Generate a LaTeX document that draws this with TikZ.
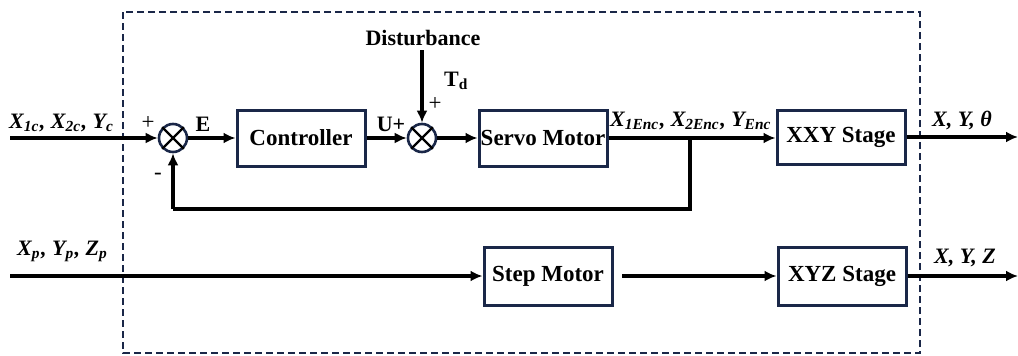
\documentclass[tikz,border=0pt]{standalone}
\usepackage{fontspec}
\setmainfont{Liberation Serif}
\usetikzlibrary{arrows.meta}
\definecolor{navy}{HTML}{1A2748}
\begin{document}
\begin{tikzpicture}[x=1pt,y=-1pt,
  blk/.style={draw=navy, line width=3pt, rectangle, minimum width=128pt, minimum height=56pt, inner sep=0pt, font=\fontsize{23}{26}\selectfont\bfseries},
  sumc/.style={draw=navy, line width=2.6pt, circle, minimum size=28pt, inner sep=0pt},
  conn/.style={line width=3.6pt, -{Latex[length=12pt,width=11pt]}},
  line/.style={line width=3.6pt},
  lbl/.style={font=\fontsize{22}{26}\selectfont\bfseries\itshape, inner sep=0pt},
  sgn/.style={font=\fontsize{23}{26}\selectfont, inner sep=0pt},
  bl/.style={font=\fontsize{22}{26}\selectfont\bfseries, inner sep=0pt}]
\useasboundingbox (0,0) rectangle (1018,356);
% dashed frame
\draw[navy, line width=2.2pt, dash pattern=on 7pt off 4pt] (123,12) rectangle (920,353);
% blocks
\node[blk] (ctrl) at (301,138) {Controller};
\node[blk] (servo) at (543,138) {Servo Motor};
\node[blk, minimum height=54pt] (xxy) at (841,137) {XXY Stage};
\node[blk, minimum height=58pt] (step) at (548,276) {Step Motor};
\node[blk, minimum height=58pt] (xyz) at (842,276) {XYZ Stage};
% summing junctions
\node[sumc] (s1) at (173,138) {};
\draw[line width=2.4pt] (s1.north west) -- (s1.south east) (s1.north east) -- (s1.south west);
\node[sumc] (s2) at (422,138) {};
\draw[line width=2.4pt] (s2.north west) -- (s2.south east) (s2.north east) -- (s2.south west);
% coordinates
\coordinate (in1) at (10,138);
\coordinate (out1) at (1018,137);
\coordinate (br) at (690,138);
\coordinate (fb1) at (690,209);
\coordinate (fb2) at (173,209);
\coordinate (dist) at (422,50);
\coordinate (in2) at (10,276);
\coordinate (sm) at (622,276);
\coordinate (out2) at (1018,276);
% connectors
\draw[conn] (in1) -- (s1.west);
\draw[conn] (s1.east) -- (ctrl.west);
\draw[conn] (ctrl.east) -- (s2.west);
\draw[conn] (s2.east) -- (servo.west);
\draw[conn] (servo.east) -- (servo.east -| xxy.west);
\draw[line] (br) -- (fb1) -- (fb2);
\draw[conn] (fb2) -- (s1.south);
\draw[conn] (dist) -- (s2.north);
\draw[conn] (xxy.east) -- (out1);
\draw[conn] (in2) -- (step.west);
\draw[conn] (sm) -- (xyz.west);
\draw[conn] (xyz.east) -- (out2);
% labels
\node[lbl, anchor=base west] (lin1) at (9,128) {X\textsubscript{1c}\kern1pt, X\textsubscript{2c}\kern1pt, Y\textsubscript{c}};
\node[sgn, anchor=center] (p1) at (148,123) {+};
\node[sgn, anchor=center] (m1) at (158,176) {-};
\node[bl, anchor=center] (le) at (203,124) {E};
\node[bl, anchor=center] (lu) at (391,124) {U+};
\node[bl, anchor=center] (ldist) at (423,38) {Disturbance};
\node[bl, anchor=center] (ltd) at (456,81) {T\textsubscript{d}};
\node[sgn, anchor=center] (p2) at (435,104) {+};
\node[lbl, anchor=base west] (lenc) at (610,126) {X\textsubscript{1Enc}\kern1pt, X\textsubscript{2Enc}\kern1pt, Y\textsubscript{Enc}};
\node[lbl, anchor=base west] (lout1) at (932,126) {X, Y, θ};
\node[lbl, anchor=base west] (lin2) at (17,255) {X\textsubscript{p}\kern1pt, Y\textsubscript{p}\kern1pt, Z\textsubscript{p}};
\node[lbl, anchor=base west] (lout2) at (934,263) {X, Y, Z};
\end{tikzpicture}
\end{document}
